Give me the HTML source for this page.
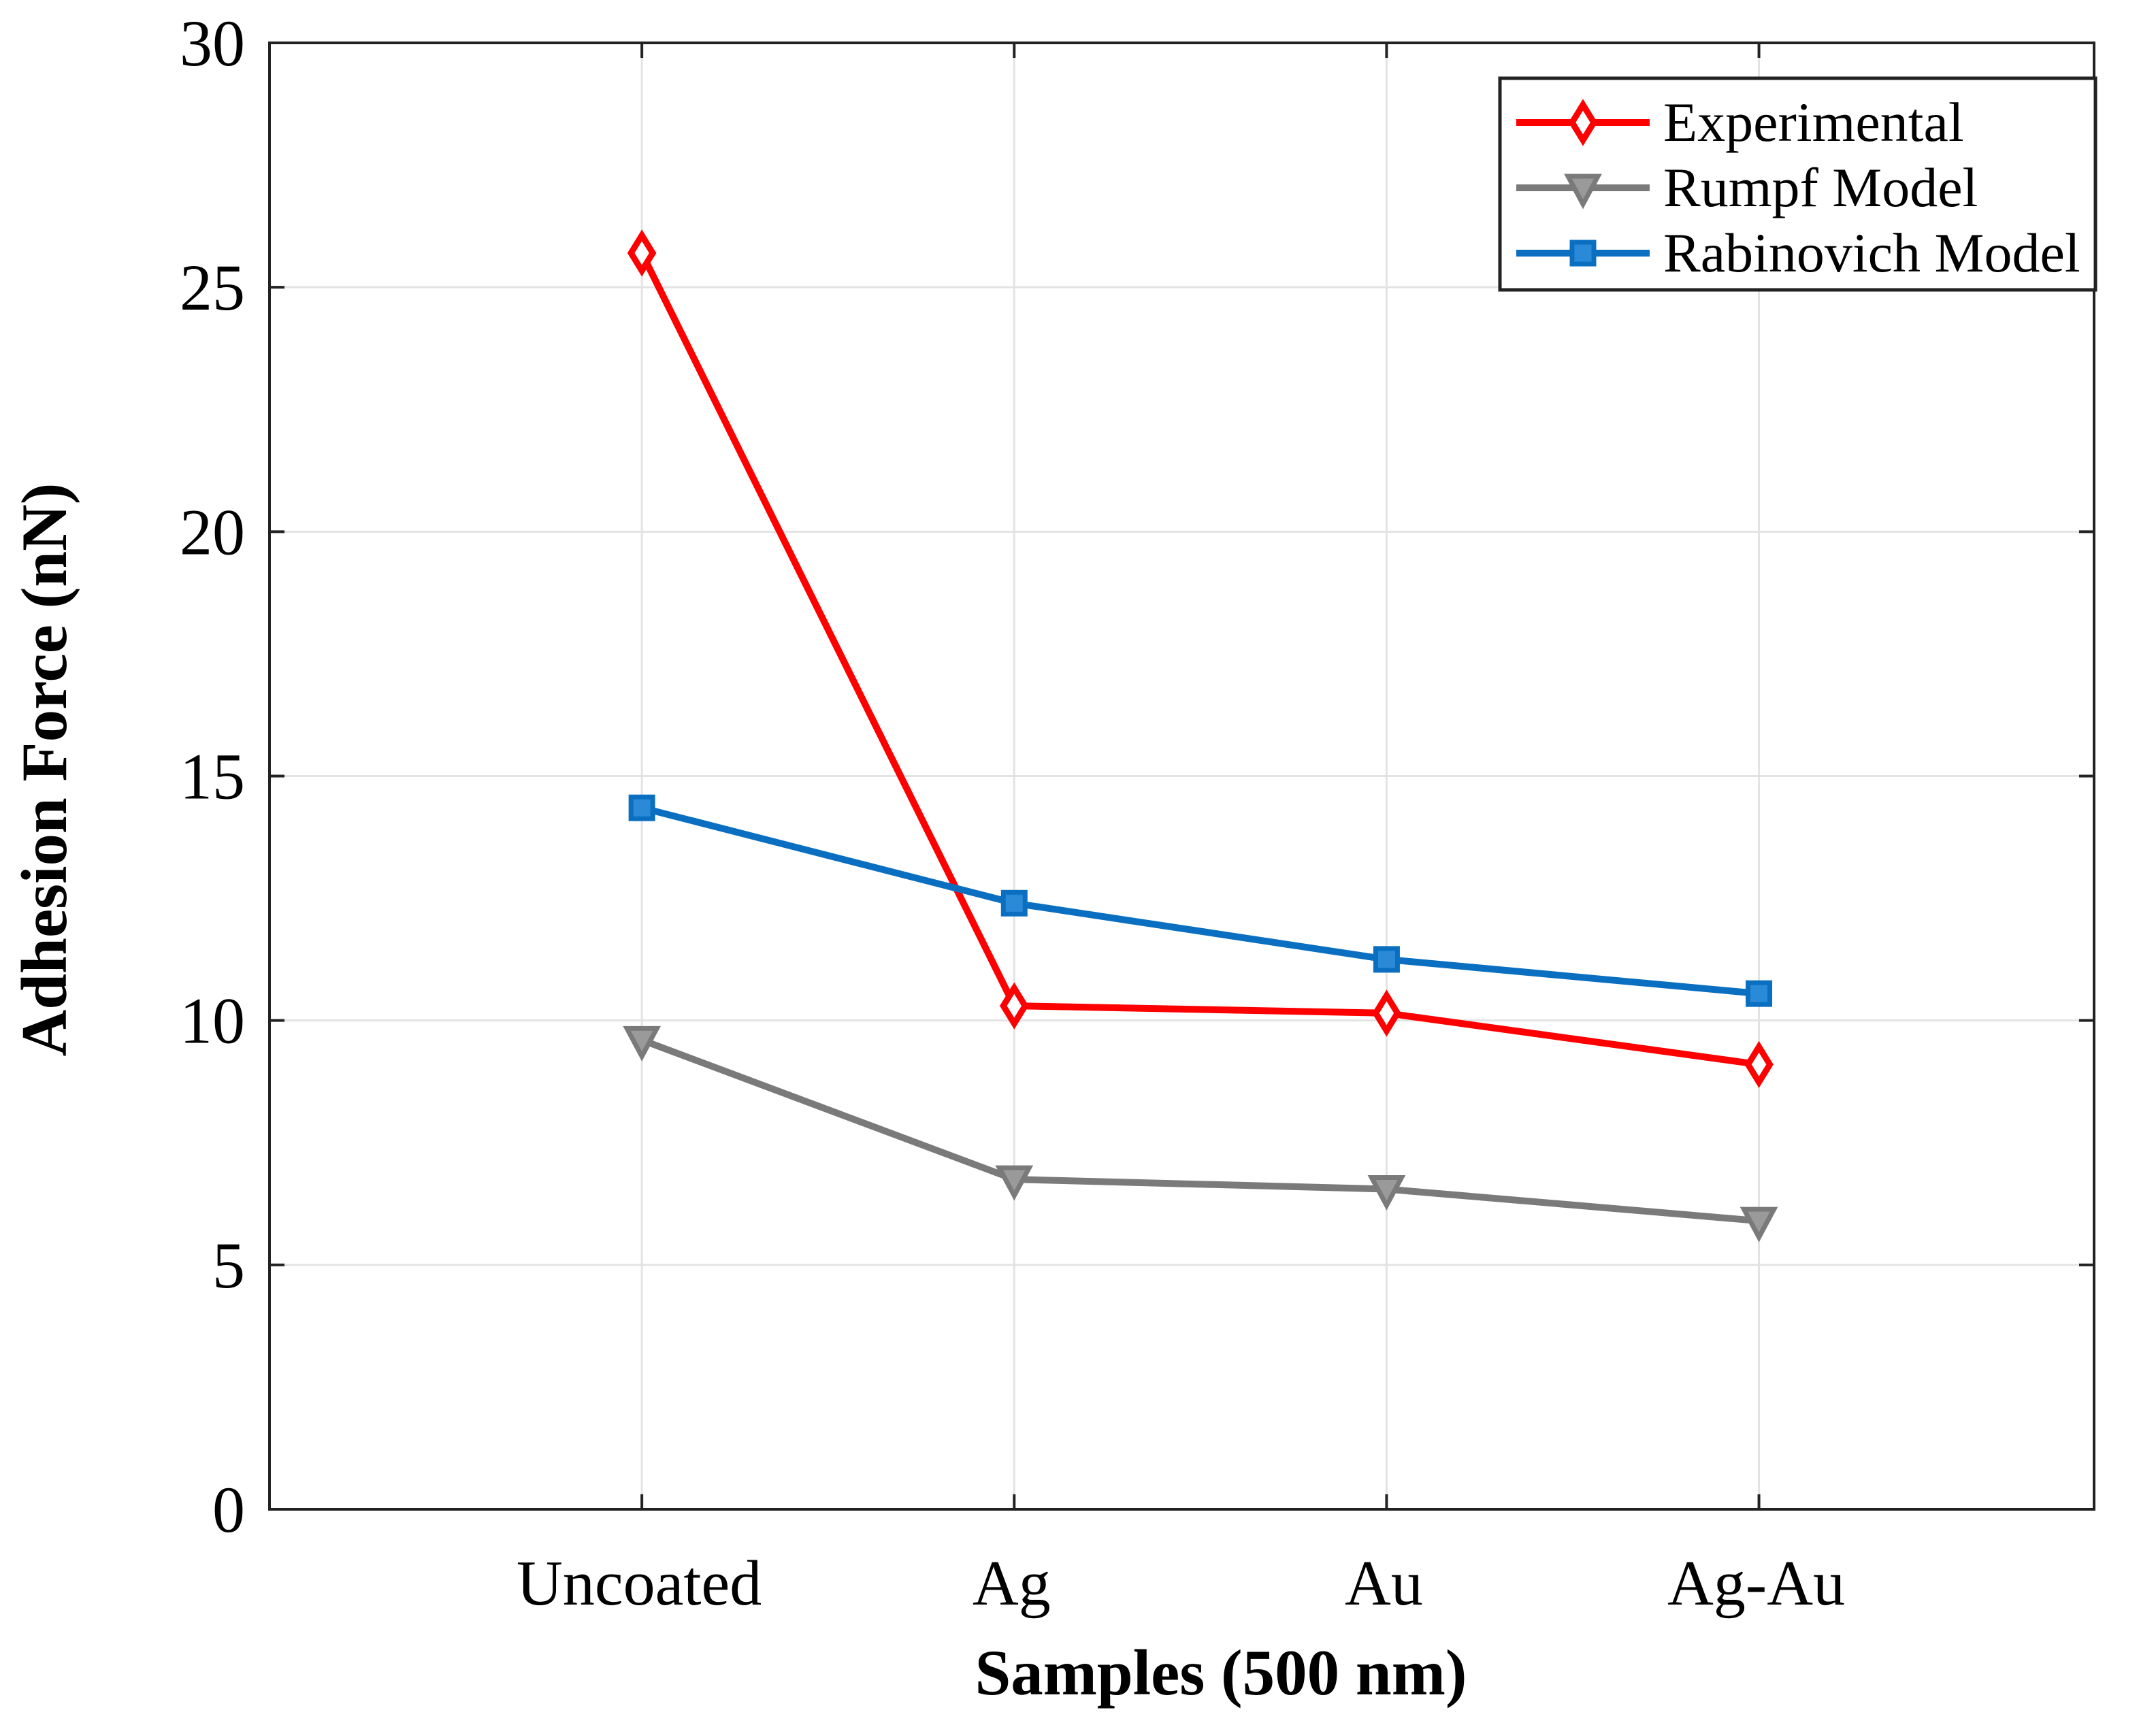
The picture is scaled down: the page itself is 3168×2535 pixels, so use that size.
<!DOCTYPE html>
<html><head><meta charset="utf-8"><style>html,body{margin:0;padding:0;background:#fff}svg{display:block}</style></head>
<body>
<svg id="chart" width="3168" height="2535" viewBox="0 0 3168 2535" xmlns="http://www.w3.org/2000/svg" font-family="'Liberation Serif', serif">
<rect width="3168" height="2535" fill="#fff"/>
<g id="grid"></g><g id="axes"></g><g id="series"></g><g id="legend"></g>
<text x="1794" y="2490" font-size="95" font-weight="bold" text-anchor="middle">Samples (500 nm)</text>
<text transform="translate(97,1131) rotate(-90)" font-size="95" font-weight="bold" text-anchor="middle">Adhesion Force (nN)</text>
</svg>
<script>
const categories = ["Uncoated","Ag","Au","Ag-Au"];
const experimental = [25.7, 10.3, 10.15, 9.1];
const rumpf = [9.6, 6.75, 6.55, 5.9];
const rabinovich = [14.35, 12.4, 11.25, 10.55];
const yTicks = [0,5,10,15,20,25,30];
const legendLabels = ["Experimental","Rumpf Model","Rabinovich Model"];

const L=396,R=3077,T=63,B=2218;
const NS="http://www.w3.org/2000/svg";
function x(i){return L+(i+1)*(R-L)/4.9;}
function y(v){return B-v*(B-T)/30;}
function mk(tag,attrs,parent){const e=document.createElementNS(NS,tag);for(const k in attrs)e.setAttribute(k,attrs[k]);parent.appendChild(e);return e;}
const grid=document.getElementById('grid'),axes=document.getElementById('axes'),ser=document.getElementById('series'),leg=document.getElementById('legend');

yTicks.forEach(t=>{
  const g=mk('line',{x1:L,x2:R,y1:y(t),y2:y(t),stroke:'#e3e3e3','stroke-width':3},grid);
  
  
  const tk=mk('line',{x1:L,x2:L+22,y1:y(t),y2:y(t),stroke:'#222','stroke-width':4},axes);
  
  
  const tk2=mk('line',{x1:R,x2:R-22,y1:y(t),y2:y(t),stroke:'#222','stroke-width':4},axes);
  
  
  const lb=mk('text',{x:360,y:y(t)+33,'font-size':96,'text-anchor':'end'},axes);
  lb.textContent=t;
  
  
});
categories.forEach((c,i)=>{
  const g=mk('line',{x1:x(i),x2:x(i),y1:T,y2:B,stroke:'#e3e3e3','stroke-width':3},grid);
  
  
  const tk=mk('line',{x1:x(i),x2:x(i),y1:B,y2:B-22,stroke:'#222','stroke-width':4},axes);
  
  
  const tk2=mk('line',{x1:x(i),x2:x(i),y1:T,y2:T+22,stroke:'#222','stroke-width':4},axes);
  
  
  const lb=mk('text',{x:x(i)-4,y:2358,'font-size':94,'text-anchor':'middle'},axes);
  lb.textContent=c;
  
  
});
const box=mk('rect',{x:L,y:T,width:R-L,height:B-T,fill:'none',stroke:'#222','stroke-width':4},axes);



function marker(type,cx,cy,color,parent){
  let e;
  if(type==='d') e=mk('polygon',{points:`${cx},${cy-26} ${cx+16},${cy} ${cx},${cy+26} ${cx-16},${cy}`,fill:'#fff',stroke:color,'stroke-width':9},parent);
  else if(type==='v') e=mk('polygon',{points:`${cx-22},${cy-17} ${cx+22},${cy-17} ${cx},${cy+24}`,fill:'#9a9a9a',stroke:color,'stroke-width':7},parent);
  else e=mk('rect',{x:cx-16,y:cy-16,width:32,height:32,fill:'#2a8ad8',stroke:color,'stroke-width':7},parent);
  return e;
}
const seriesDefs=[
  {name:'experimental',data:experimental,color:'#ff0000',m:'d'},
  {name:'rumpf-model',data:rumpf,color:'#7a7a7a',m:'v'},
  {name:'rabinovich-model',data:rabinovich,color:'#0a6fc0',m:'s'}
];
seriesDefs.forEach(s=>{
  const g=mk('g',{},ser);
  
  
  const pl=mk('polyline',{points:s.data.map((v,i)=>x(i)+','+y(v)).join(' '),fill:'none',stroke:s.color,'stroke-width':10,'stroke-linejoin':'round'},g);
  
  
  s.data.forEach((v,i)=>{
    const m=marker(s.m,x(i),y(v),s.color,g);
    
    
  });
});
const lb=mk('rect',{x:2204,y:115,width:875,height:311,fill:'#fff',stroke:'#222','stroke-width':5},leg);


seriesDefs.forEach((s,k)=>{
  const cy=180+k*96;
  const g=mk('g',{},leg);
  
  
  mk('line',{x1:2228,x2:2424,y1:cy,y2:cy,stroke:s.color,'stroke-width':10},g);
  marker(s.m,2326,cy,s.color,g);
  const t=mk('text',{x:2444,y:cy+27,'font-size':82},g);
  t.textContent=legendLabels[k];
});
</script>
</body></html>
